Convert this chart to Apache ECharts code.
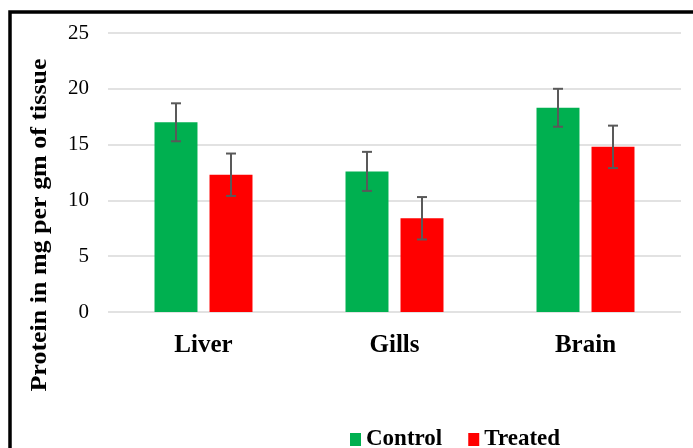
<!DOCTYPE html>
<html>
<head>
<meta charset="utf-8">
<script src="https://cdn.jsdelivr.net/npm/echarts@6/dist/echarts.min.js"></script>
<style>
html,body{margin:0;padding:0;background:#fff;}
#chart{width:693px;height:448px;}
</style>
</head>
<body>
<div id="chart"></div>
<script>
const categories = ['Liver', 'Gills', 'Brain'];
const seriesNames = ['Control', 'Treated'];
const controlValues = [17.0, 12.6, 18.3];
const treatedValues = [12.3, 8.4, 14.8];
const controlErrors = [1.7, 1.75, 1.7];
const treatedErrors = [1.9, 1.9, 1.9];
const yTicks = [0, 5, 10, 15, 20, 25];
const yTitle = 'Protein in mg per gm of tissue';

const FONT = "'Liberation Serif', 'Times New Roman', serif";
const BAR_FRAC = 0.225;
const GAP_FRAC = 0.28;

function errData(vals, errs) {
  return vals.map((v, i) => [i, v - errs[i], v + errs[i]]);
}

function errRender(sign) {
  return function (params, api) {
    const band = api.size([1, 0])[0];
    const bw = band * BAR_FRAC;
    const off = sign * (bw + bw * GAP_FRAC) / 2;
    const x = api.coord([api.value(0), 0])[0] + off;
    const yLo = api.coord([api.value(0), api.value(1)])[1];
    const yHi = api.coord([api.value(0), api.value(2)])[1];
    const cap = 5;
    const style = { stroke: '#595959', lineWidth: 2 };
    return {
      type: 'group',
      children: [
        { type: 'line', shape: { x1: x, y1: yLo, x2: x, y2: yHi }, style },
        { type: 'line', shape: { x1: x - cap, y1: yHi, x2: x + cap, y2: yHi }, style },
        { type: 'line', shape: { x1: x - cap, y1: yLo, x2: x + cap, y2: yLo }, style }
      ]
    };
  };
}

const chart = echarts.init(document.getElementById('chart'), null, { renderer: 'canvas' });
chart.setOption({
  animation: false,
  backgroundColor: '#fff',
  textStyle: { fontFamily: FONT },
  graphic: [{
    type: 'rect',
    shape: { x: 10, y: 12, width: 720, height: 480 },
    style: { fill: 'none', stroke: '#000', lineWidth: 3.5 },
    silent: true,
    z: 100
  }, {
    type: 'text',
    x: 40,
    y: 225,
    rotation: Math.PI / 2,
    scaleX: 1.13,
    style: {
      text: yTitle,
      font: "bold 23px 'Liberation Serif', 'Times New Roman', serif",
      fill: '#000',
      align: 'center',
      verticalAlign: 'middle'
    },
    silent: true
  }],
  grid: { left: 108, width: 573, top: 33, bottom: 136, containLabel: false },
  legend: {
    data: seriesNames,
    left: 345,
    top: 423,
    icon: 'rect',
    itemWidth: 11,
    itemHeight: 13,
    itemGap: 26,
    textStyle: { fontFamily: FONT, fontSize: 23, fontWeight: 'bold', color: '#000' }
  },
  xAxis: {
    type: 'category',
    data: categories,
    axisLine: { show: false },
    axisTick: { show: false },
    axisLabel: { fontFamily: FONT, fontSize: 25, fontWeight: 'bold', color: '#000', margin: 21 }
  },
  yAxis: {
    type: 'value',
    min: yTicks[0],
    max: yTicks[yTicks.length - 1],
    interval: 5,
    axisLine: { show: false },
    axisTick: { show: false },
    axisLabel: { fontFamily: FONT, fontSize: 21, color: '#000', margin: 19 },
    splitLine: { lineStyle: { color: '#d9d9d9', width: 1.5 } }
  },
  series: [
    {
      name: seriesNames[0], type: 'bar', data: controlValues,
      barWidth: (BAR_FRAC * 100) + '%', barGap: (GAP_FRAC * 100) + '%',
      itemStyle: { color: '#00b050' }
    },
    {
      name: seriesNames[1], type: 'bar', data: treatedValues,
      barWidth: (BAR_FRAC * 100) + '%', barGap: (GAP_FRAC * 100) + '%',
      itemStyle: { color: '#ff0000' }
    },
    {
      type: 'custom', name: 'ControlErr', data: errData(controlValues, controlErrors),
      renderItem: errRender(-1), encode: { x: 0, y: [1, 2] }, z: 10, silent: true
    },
    {
      type: 'custom', name: 'TreatedErr', data: errData(treatedValues, treatedErrors),
      renderItem: errRender(1), encode: { x: 0, y: [1, 2] }, z: 10, silent: true
    }
  ]
});
</script>
</body>
</html>
